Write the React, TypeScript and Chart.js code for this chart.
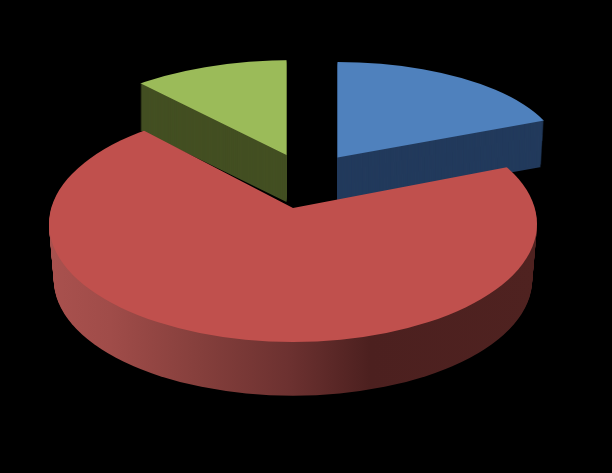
import React, { useEffect, useRef } from 'react';
import Chart from 'chart.js/auto';

const categories = ['First', 'Second', 'Third'];
const shares = [19.4, 68.1, 12.5];
const topColors = ['#4f81bd', '#c0504d', '#9bbb59'];
const wallColors = ['#223a5c', '', '#434f22'];

// Fake perspective for each slice: apex of the wedge, rim ellipse, tilt of the cut edges, wall depth
const views = [
  { ax: 337.5, ay: 157.5, cx: 337, cy: 157, rx: 224, ry: 95, tilt: 0.487, depth: 46, taper: 0.014 },
  { ax: 293, ay: 208, cx: 293, cy: 224, rx: 244, ry: 118, tilt: 0.519, depth: 56, taper: 0.02 },
  { ax: 286.5, ay: 155, cx: 295, cy: 155, rx: 235, ry: 95, tilt: 0.491, depth: 47, taper: 0 },
];
const drawOrder = [0, 2, 1];

// Side of the big slice goes from lit on the left to dark on the right
const wallStops: [number, string][] = [
  [50, '#a9514e'],
  [110, '#a04c49'],
  [200, '#853f3c'],
  [290, '#6c3130'],
  [370, '#4c201f'],
  [535, '#4f2220'],
];

function place(ctx: CanvasRenderingContext2D, arc: any, view: any, drop: number) {
  const scaleX = (1.5 * view.rx) / arc.outerRadius;
  ctx.translate(view.ax, view.ay + drop);
  ctx.scale(scaleX, scaleX * view.tilt);
  ctx.translate(-arc.x, -arc.y);
  return scaleX;
}

function drawLayer(ctx: CanvasRenderingContext2D, arc: any, view: any, drop: number, fill: any) {
  const shrink = 1 - (view.taper * drop) / view.depth;
  ctx.save();
  ctx.beginPath();
  ctx.ellipse(view.cx, view.cy + drop, view.rx * shrink, view.ry * shrink, 0, 0, Math.PI * 2);
  ctx.clip();
  const scaleX = place(ctx, arc, view, drop);
  let color = fill;
  if (!color) {
    // gradient has to be given in the local coords of the arc
    const toLocal = (px: number) => arc.x + (px - view.ax) / scaleX;
    color = ctx.createLinearGradient(toLocal(wallStops[0][0]), 0, toLocal(wallStops[5][0]), 0);
    wallStops.forEach(([px, c]) => {
      color.addColorStop((px - wallStops[0][0]) / (wallStops[5][0] - wallStops[0][0]), c);
    });
  }
  const saved = arc.options;
  arc.options = { ...saved, backgroundColor: color };
  arc.draw(ctx);
  arc.options = saved;
  ctx.restore();
}

const pie3d = {
  id: 'pie3d',
  beforeDatasetDraw(chart: any) {
    const ctx = chart.ctx;
    const arcs = chart.getDatasetMeta(0).data;
    drawOrder.forEach((i) => {
      const view = views[i];
      for (let drop = view.depth; drop > 0; drop--) {
        drawLayer(ctx, arcs[i], view, drop, wallColors[i]);
      }
      drawLayer(ctx, arcs[i], view, 0, topColors[i]);
    });
    return false;
  },
};

export default function App() {
  const chartRef = useRef<HTMLCanvasElement>(null);

  useEffect(() => {
    if (!chartRef.current) return;
    document.body.style.margin = '0';
    document.body.style.background = '#000';

    const chart = new Chart(chartRef.current, {
      type: 'pie',
      data: {
        labels: categories,
        datasets: [{
          data: shares,
          backgroundColor: topColors,
          borderWidth: 0,
        }],
      },
      options: {
        responsive: false,
        animation: false,
        plugins: {
          legend: { display: false },
          tooltip: { enabled: false },
        },
      },
      plugins: [pie3d],
    });

    return () => chart.destroy();
  }, []);

  return <canvas ref={chartRef} width={612} height={473} style={{ display: 'block', background: '#000' }} />;
}
